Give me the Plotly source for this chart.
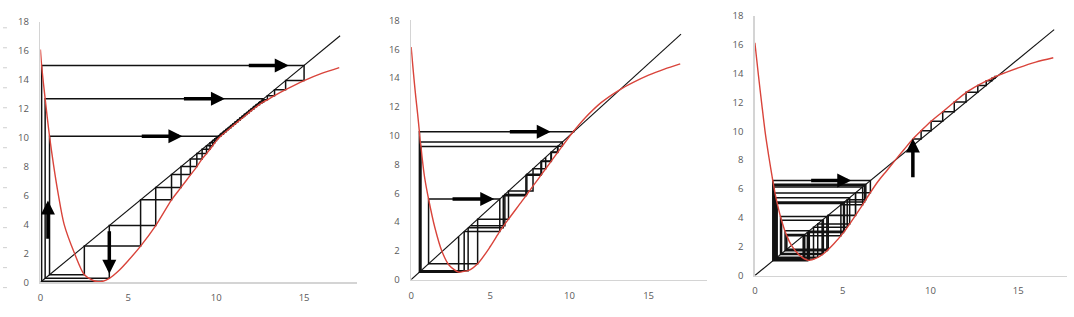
import plotly.graph_objects as go

W, H = 1074, 317

# ---------------- data ----------------
# red map curves (sample points)
p1_curve_x = [0, 0.07, 0.17, 0.27, 0.4, 0.52, 0.75, 1.0, 1.35, 1.94, 2.5, 3.0, 3.3, 3.55, 3.92, 4.5, 5.0, 5.7,
              6.56, 7.46, 8.0, 8.56, 8.9, 9.2, 9.45, 9.65, 9.8, 9.92, 10.02, 10.1, 10.3, 10.6, 11.0, 11.6, 12.0,
              12.3, 12.62, 12.91, 13.32, 13.95, 15.0, 16.0, 17.0]
p1_curve_y = [16.1, 15.0, 13.8, 12.7, 11.3, 10.1, 8.1, 6.2, 4.0, 2.0, 0.52, 0.12, 0.03, 0.07, 0.27, 0.85, 1.5, 2.5,
              3.92, 5.7, 6.56, 7.46, 8.0, 8.53, 8.9, 9.2, 9.45, 9.65, 9.8, 9.92, 10.15, 10.46, 10.87, 11.47, 11.87,
              12.15, 12.42, 12.62, 12.91, 13.32, 13.95, 14.45, 14.85]

p2_curve_x = [0, 0.1, 0.2, 0.3, 0.4, 0.52, 0.58, 0.62, 0.7, 0.85, 1.1, 1.5, 1.95, 2.4, 3.0, 3.35, 3.6, 4.2, 5.0,
              5.6, 6.15, 7.0, 7.5, 8.0, 8.5, 9.0, 9.5, 10.15, 11.0, 12.0, 13.2, 14.0, 15.0, 16.0, 17.0]
p2_curve_y = [16.15, 14.9, 13.7, 12.6, 11.6, 10.27, 9.55, 9.25, 8.4, 7.1, 5.6, 3.6, 1.95, 1.0, 0.52, 0.58, 0.62,
              1.1, 2.3, 3.35, 4.2, 5.45, 6.2, 6.95, 7.7, 8.45, 9.2, 10.15, 11.24, 12.29, 13.2, 13.68, 14.2, 14.62,
              14.98]

p3_curve_x = [0, 0.2, 0.4, 0.6, 0.8, 1.0, 1.2, 1.5, 1.8, 2.1, 2.5, 3.05, 3.5, 4.0, 4.5, 5.0, 5.5, 6.0, 6.5, 7.0,
              7.5, 8.0, 8.5, 9.0, 9.47, 10.04, 10.7, 11.36, 12.05, 12.7, 13.2, 13.9, 15.0, 16.0, 17.0]
p3_curve_y = [16.14, 13.9, 11.8, 9.8, 8.2, 6.72, 5.4, 3.9, 2.8, 2.05, 1.45, 1.05, 1.2, 1.6, 2.2, 2.9, 3.75, 4.65,
              5.6, 6.5, 7.25, 8.0, 8.74, 9.47, 10.04, 10.7, 11.36, 12.03, 12.7, 13.18, 13.5, 13.9, 14.4, 14.8, 15.1]

# diagonal y = x
diag = [0, 17.05]

# cobweb orbits (successive iterates)
p1_orbit_a = [3.55, 0.07, 15.0, 13.95, 13.32, 12.91, 12.62, 12.42, 12.26, 12.12, 11.99, 11.86, 11.73, 11.6, 11.47,
              11.34, 11.21, 11.08, 10.95, 10.82, 10.69, 10.55, 10.4, 10.24, 10.1]
p1_orbit_b = [10.1, 9.92, 9.65, 9.2, 8.53, 7.46, 5.7, 2.5, 0.52, 10.1]
p1_orbit_c = [12.7, 12.47, 12.3, 12.15, 12.01, 11.88, 11.75, 11.62, 11.49, 11.36, 11.23, 11.1, 10.97, 10.84, 10.71,
              10.58, 10.44, 10.29, 10.14, 10.02, 9.8, 9.45, 8.9, 8.0, 6.56, 3.92, 0.27, 12.7]

p2_orbit_a = [3.0, 0.52, 10.27, 10.32]
p2_orbit_b = [3.35, 0.58, 9.55, 9.27, 8.86, 8.24, 7.31, 5.92, 3.75]
p2_orbit_c = [3.6, 0.62, 9.25, 8.83, 8.2, 7.25, 5.82, 3.6]
p2_orbit_d = [8.5, 7.7, 6.15, 4.2, 1.1, 5.6, 3.35]

p3_orbit_low = [3.05, 1.02, 6.58, 5.74, 4.18, 1.82, 2.75, 1.27, 5.05, 2.99, 1.09, 6.14, 4.9, 2.76, 1.26, 5.1, 3.07,
                1.06, 6.32, 5.26, 3.34, 1.15, 5.73, 4.16, 1.79, 2.84, 1.2, 5.4, 3.58, 1.26, 5.0]
p3_orbit_cycle = [3.9, 1.52, 3.83, 1.46, 4.1, 1.72, 3.1, 1.07, 6.25, 5.1]
p3_orbit_high = [9.0, 9.47, 10.04, 10.7, 11.36, 12.03, 12.7, 13.18, 13.5, 13.68, 13.8]

# arrows: (tail x, tail y, head x, head y)
p1_arrows = [(11.77, 15.0, 14.13, 15.0), (8.08, 12.7, 10.5, 12.7), (5.68, 10.1, 8.08, 10.1),
             (0.43, 2.9, 0.43, 5.66), (3.92, 3.63, 3.92, 0.58)]
p2_arrows = [(6.14, 10.27, 8.82, 10.27), (2.52, 5.6, 5.25, 5.6)]
p3_arrows = [(3.12, 6.58, 5.49, 6.58), (9.0, 6.71, 9.0, 9.5)]

x_ticks = [0, 5, 10, 15]
y_ticks = [0, 2, 4, 6, 8, 10, 12, 14, 16, 18]


def cobweb(orbit, start_on_curve):
    xs, ys = [], []
    if start_on_curve:
        xs.append(orbit[0]); ys.append(orbit[1])
    else:
        xs += [orbit[0], orbit[0]]; ys += [orbit[0], orbit[1]]
    for a, b in zip(orbit[1:], orbit[2:]):
        xs += [a, a]; ys += [a, b]
    if len(orbit) >= 2:
        xs.append(orbit[-1]); ys.append(orbit[-1])
    return xs, ys


fig = go.Figure()

panels = [
    dict(cx=p1_curve_x, cy=p1_curve_y,
         orbits=[(p1_orbit_a, True), (p1_orbit_b, False), (p1_orbit_c, False)], arrows=p1_arrows),
    dict(cx=p2_curve_x, cy=p2_curve_y,
         orbits=[(p2_orbit_a, False), (p2_orbit_b, False), (p2_orbit_c, False), (p2_orbit_d, False)],
         arrows=p2_arrows),
    dict(cx=p3_curve_x, cy=p3_curve_y,
         orbits=[(p3_orbit_low, True), (p3_orbit_cycle, False), (p3_orbit_high, True)], arrows=p3_arrows),
]

# pixel geometry of each plot area: (left px, right px, x max, bottom px, top px)
geo = [(37.5, 354.8, 18.0, 287.0, 15.7),
       (409.3, 706.1, 18.7, 284.3, 14.0),
       (754.0, 1067.3, 17.8, 280.0, 9.3)]

annotations = []
for i, (p, g) in enumerate(zip(panels, geo), start=1):
    xa = "x" if i == 1 else f"x{i}"
    ya = "y" if i == 1 else f"y{i}"
    for orb, soc in p["orbits"]:
        xs, ys = cobweb(orb, soc)
        fig.add_trace(go.Scatter(x=xs, y=ys, mode="lines", xaxis=xa, yaxis=ya,
                                 line=dict(color="#111111", width=1.5), hoverinfo="skip"))
    fig.add_trace(go.Scatter(x=diag, y=diag, mode="lines", xaxis=xa, yaxis=ya,
                             line=dict(color="#111111", width=1.1), hoverinfo="skip"))
    fig.add_trace(go.Scatter(x=p["cx"], y=p["cy"], mode="lines", xaxis=xa, yaxis=ya,
                             line=dict(color="#d9443b", width=1.4, shape="spline", smoothing=0.8),
                             hoverinfo="skip"))
    for tx, ty, hx, hy in p["arrows"]:
        annotations.append(dict(x=hx, y=hy, ax=tx, ay=ty, xref=xa, yref=ya, axref=xa, ayref=ya,
                                text="", showarrow=True, arrowhead=2, arrowsize=0.8, arrowwidth=3.5,
                                arrowcolor="#000000", standoff=0))

layout = dict(width=W, height=H, margin=dict(l=0, r=0, t=0, b=0),
              paper_bgcolor="white", plot_bgcolor="white", showlegend=False,
              annotations=annotations)

axis_common = dict(showgrid=False, zeroline=False, showline=True, linecolor="#d4d4d4", linewidth=1.5,
                   ticks="", tickfont=dict(family="Open Sans, Liberation Sans, sans-serif", size=9.5,
                                           color="#595959"))
for i, (l, r, xmax, b, t) in enumerate(geo, start=1):
    xk = "xaxis" if i == 1 else f"xaxis{i}"
    yk = "yaxis" if i == 1 else f"yaxis{i}"
    yname = "y" if i == 1 else f"y{i}"
    xname = "x" if i == 1 else f"x{i}"
    layout[xk] = dict(axis_common, domain=[l / W, r / W], range=[0, xmax], tickvals=x_ticks,
                      anchor=yname, ticklabelstandoff=6)
    layout[yk] = dict(axis_common, domain=[(H - b) / H, (H - t) / H], range=[0, 18], tickvals=y_ticks,
                      anchor=xname, ticklabelstandoff=8)

# faint leftover tick marks at the far left edge
shapes = []
for k in range(14):
    py = 21.7 + k * 20.84
    shapes.append(dict(type="line", xref="paper", yref="paper", x0=0, x1=4 / W,
                       y0=1 - py / H, y1=1 - py / H, line=dict(color="#cfcfcf", width=1)))
layout["shapes"] = shapes

fig.update_layout(**layout)
fig.write_html("out.html",
               config={"displayModeBar": False, "staticPlot": True},
               post_script="document.body.style.margin='0';document.body.style.padding='0';"
                           "document.documentElement.style.overflow='hidden';")
